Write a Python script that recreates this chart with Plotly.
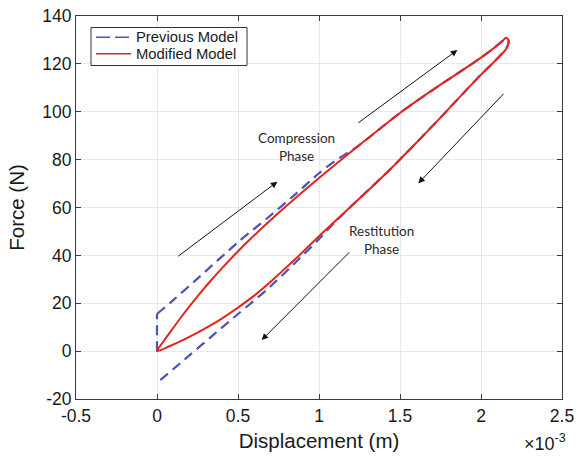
import plotly.graph_objects as go

# Displacement in units of 1e-3 m, force in N.

# Modified model: compression (loading) branch, origin -> tip
mod_load_disp = [0, 0.04, 0.08, 0.16, 0.25, 0.33, 0.41, 0.49, 0.57, 0.67, 0.80,
                 1.00, 1.25, 1.50, 1.75, 1.90, 2.00, 2.08, 2.13, 2.155]
mod_load_force = [0, 4.0, 7.8, 15.2, 22.9, 29.3, 35.3, 41.0, 46.4, 52.8, 60.7,
                  72.3, 86.1, 99.5, 111.3, 118.0, 122.6, 126.6, 129.4, 130.9]

# Modified model: restitution (unloading) branch, tip -> origin
mod_unload_disp = [2.171, 2.155, 2.12, 2.08, 2.00, 1.90, 1.77, 1.60, 1.44, 1.20,
                   1.00, 0.866, 0.75, 0.675, 0.60, 0.50, 0.40, 0.325, 0.25, 0.16, 0.08, 0]
mod_unload_force = [129.6, 126.2, 123.6, 120.8, 115.5, 108.4, 99.0, 87.0, 76.0, 60.6,
                    48.0, 39.2, 32.0, 27.4, 23.2, 18.2, 13.6, 10.5, 7.7, 4.6, 2.15, 0]

# Previous model: force jump at impact, then compression, restitution and
# a negative force at separation
prev_jump_disp = [0, 0]
prev_jump_force = [0, 15.5]
prev_load_disp = [0, 0.10, 0.25, 0.50, 0.68, 0.85, 1.00, 1.10, 1.20,
                  1.25, 1.50, 1.75, 1.90, 2.00, 2.08, 2.13, 2.155]
prev_load_force = [15.5, 21.3, 30.3, 45.5, 55.5, 65.3, 74.3, 79.5, 83.8,
                   86.1, 99.5, 111.3, 118.0, 122.6, 126.6, 129.4, 130.9]
prev_unload_disp = [2.171, 2.155, 2.12, 2.08, 2.00, 1.90, 1.77, 1.60, 1.44, 1.20,
                    1.10, 1.00, 0.90, 0.675, 0.50, 0.366, 0.20, 0.01]
prev_unload_force = [129.6, 126.2, 123.6, 120.8, 115.5, 108.4, 99.0, 87.0, 76.0, 60.6,
                     54.0, 46.8, 40.0, 25.5, 15.5, 7.8, -1.8, -12.7]

series_names = ["Previous Model", "Modified Model"]

x_ticks = [-0.5, 0, 0.5, 1, 1.5, 2, 2.5]
x_tick_text = ["-0.5", "0", "0.5", "1", "1.5", "2", "2.5"]
y_ticks = [-20, 0, 20, 40, 60, 80, 100, 120, 140]
y_tick_text = ["-20", "0", "20", "40", "60", "80", "100", "120", "140"]

RED = "#e2261c"
BLUE = "#4b53b6"
AXIS = "#3a3a3a"
FAMILY = "Liberation Sans, Arial, Helvetica"
TICK_FONT = dict(family=FAMILY, size=17.5, color="#1a1a1a")
NOTE_FONT = dict(family="Lato, Liberation Sans, sans-serif", size=13.5, color="#2b2b2b")

W, H = 577, 457
M_L, M_R, M_T, M_B = 76, 15, 16, 58
PLOT_W = W - M_L - M_R
PLOT_H = H - M_T - M_B


def px_x(px):
    """Horizontal pixel position -> paper coordinate."""
    return (px - M_L) / PLOT_W


def px_y(py):
    """Vertical pixel position (from top) -> paper coordinate."""
    return (H - M_B - py) / PLOT_H


blue_line = dict(color=BLUE, width=2.2, dash="10px,6px")
red_line = dict(color=RED, width=2, shape="spline", smoothing=0.8)

fig = go.Figure()
fig.add_trace(go.Scatter(
    x=prev_jump_disp, y=prev_jump_force, mode="lines",
    name=series_names[0], legendgroup="prev", showlegend=False, line=blue_line,
))
fig.add_trace(go.Scatter(
    x=prev_load_disp + prev_unload_disp,
    y=prev_load_force + prev_unload_force,
    mode="lines", name=series_names[0], legendgroup="prev", showlegend=False,
    line=dict(blue_line, shape="spline", smoothing=0.8),
))
fig.add_trace(go.Scatter(
    x=mod_load_disp + mod_unload_disp,
    y=mod_load_force + mod_unload_force,
    mode="lines", name=series_names[1], showlegend=False, line=red_line,
))

# Direction arrows: (tail_x, tail_y, head_x, head_y) in data units
arrows = [
    (0.122, 39.2, 0.743, 70.8),
    (1.233, 94.9, 1.854, 125.8),
    (2.148, 108.1, 1.613, 70.1),
    (1.196, 41.9, 0.646, 4.6),
]
annotations = []
for tx, ty, hx, hy in arrows:
    annotations.append(dict(
        x=hx, y=hy, ax=tx, ay=ty, xref="x", yref="y", axref="x", ayref="y",
        text="", showarrow=True, arrowhead=2, arrowsize=1.3, arrowwidth=1,
        arrowcolor="#111111", standoff=0,
    ))

annotations += [
    dict(x=0.862, y=85.2, xref="x", yref="y", text="Compression<br>Phase",
         showarrow=False, font=NOTE_FONT, align="center"),
    dict(x=1.387, y=46.5, xref="x", yref="y", text="Restitution<br>Phase",
         showarrow=False, font=NOTE_FONT, align="center"),
    dict(x=px_x(568), y=px_y(443), xref="paper", yref="paper",
         xanchor="right", yanchor="middle",
         text="×10<sup>-3</sup>", showarrow=False, font=dict(TICK_FONT, size=18)),
]

# Boxed legend in the upper-left corner of the axes
legend_rows = [37.2, 53.8]
shapes = [
    dict(type="rect", xref="paper", yref="paper",
         x0=px_x(91), x1=px_x(247), y0=px_y(65.5), y1=px_y(27.5),
         fillcolor="white", line=dict(color="#333333", width=1), layer="above"),
    dict(type="line", xref="paper", yref="paper",
         x0=px_x(96), x1=px_x(131), y0=px_y(legend_rows[0]), y1=px_y(legend_rows[0]),
         line=dict(color=BLUE, width=1.5, dash="14px,5px"), layer="above"),
    dict(type="line", xref="paper", yref="paper",
         x0=px_x(96), x1=px_x(131), y0=px_y(legend_rows[1]), y1=px_y(legend_rows[1]),
         line=dict(color=RED, width=1.5), layer="above"),
]
for name, py in zip(series_names, legend_rows):
    annotations.append(dict(
        x=px_x(134), y=px_y(py), xref="paper", yref="paper",
        xanchor="left", yanchor="middle", text=name, showarrow=False,
        font=dict(family=FAMILY, size=14.8, color="#1a1a1a"),
    ))

axis_common = dict(
    ticks="inside", ticklen=5, tickcolor=AXIS, tickwidth=1,
    showline=True, linecolor=AXIS, linewidth=1, mirror="ticks",
    showgrid=True, gridcolor="#e8e8e8", gridwidth=1, zeroline=False,
    tickfont=TICK_FONT, automargin=False,
)

fig.update_layout(
    width=W, height=H,
    margin=dict(l=M_L, r=M_R, t=M_T, b=M_B),
    paper_bgcolor="white", plot_bgcolor="white",
    xaxis=dict(axis_common, range=[-0.5, 2.5], tickvals=x_ticks, ticktext=x_tick_text,
               ticklabelstandoff=1,
               title=dict(text="Displacement (m)", standoff=8,
                          font=dict(family=FAMILY, size=20.5, color="#1a1a1a"))),
    yaxis=dict(axis_common, range=[-20, 140], tickvals=y_ticks, ticktext=y_tick_text,
               title=dict(text="Force (N)", standoff=12,
                          font=dict(family=FAMILY, size=20.5, color="#1a1a1a"))),
    annotations=annotations,
    shapes=shapes,
    showlegend=False,
)

fig.write_html("out.html")
